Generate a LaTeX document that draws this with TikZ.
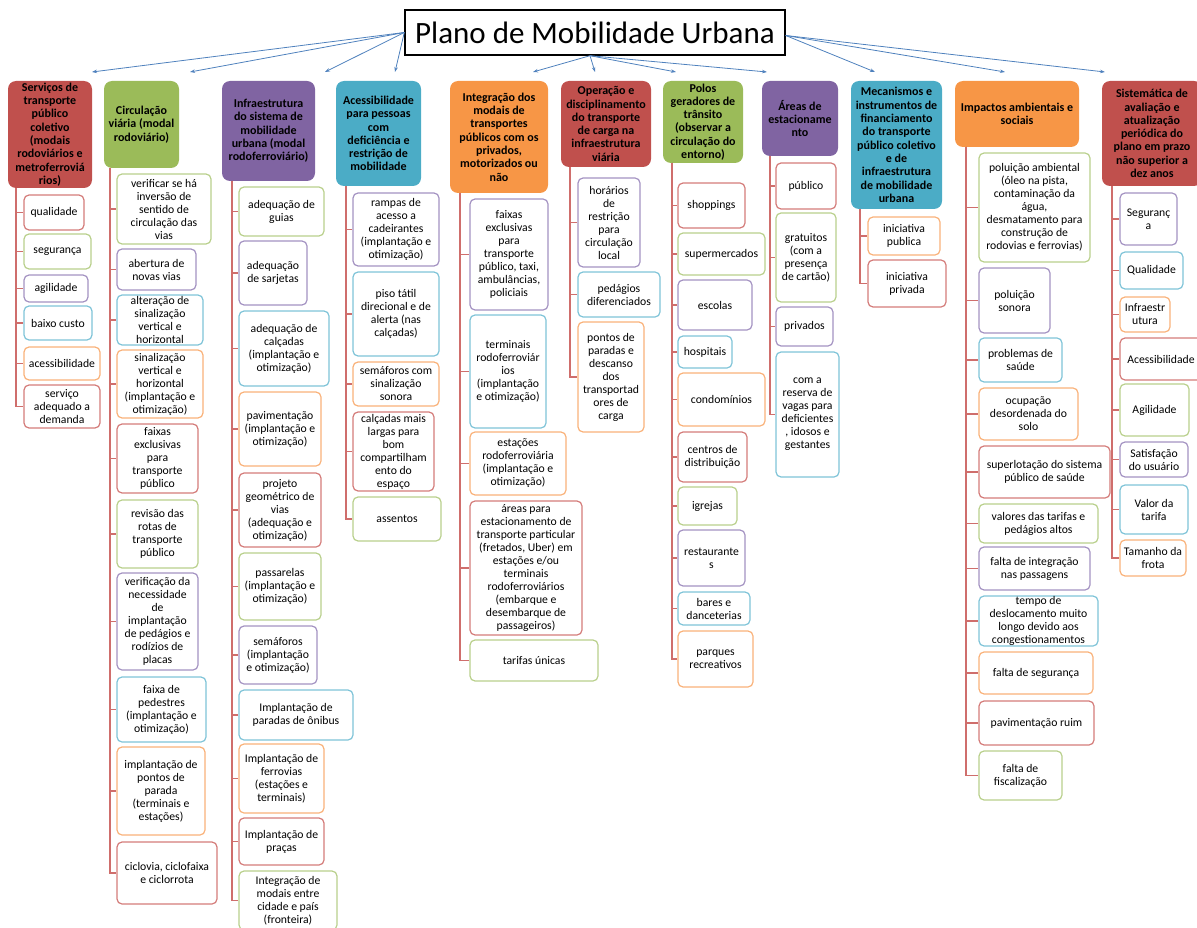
\documentclass[tikz,border=0pt]{standalone}
\usepackage{fontspec}
\setmainfont{Carlito}
\usetikzlibrary{arrows.meta}
\definecolor{hred}{HTML}{C0504D}
\definecolor{hgreen}{HTML}{9BBB59}
\definecolor{hpurple}{HTML}{8064A2}
\definecolor{hcyan}{HTML}{4BACC6}
\definecolor{horange}{HTML}{F79646}
\definecolor{bred}{HTML}{D47C7A}
\definecolor{bgreen}{HTML}{B9D08C}
\definecolor{bpurple}{HTML}{A493C2}
\definecolor{bblue}{HTML}{7FC4D8}
\definecolor{borange}{HTML}{F9B27A}
\definecolor{linec}{HTML}{CF6E6C}
\definecolor{arrc}{HTML}{4F81BD}
\tikzset{
 hdr/.style={rounded corners=8pt, inner sep=0pt, align=center, font=\fontsize{12}{13.3}\selectfont\bfseries, draw=none},
 chld/.style={rounded corners=5pt, inner sep=0pt, align=center, font=\fontsize{11.7}{13}\selectfont, fill=white, line width=1.2pt},
 conn/.style={draw=linec, line width=1.2pt},
 arr/.style={draw=arrc, line width=0.8pt, -{Stealth[length=5pt,width=3.5pt]}},
 ttl/.style={draw=black, line width=1.4pt, inner sep=0pt, font=\fontsize{31}{36}\selectfont},
}
\newcommand\mkhdr[7]{%
 \node[hdr, fill=#6, minimum width={(#4-#2)*1pt}, minimum height={(#5-#3)*1pt}] (#1) at ({(#2+#4)/2},{(#3+#5)/2}) {#7};}
\newcommand\mkch[8]{%
 \node[chld, draw=#6, minimum width={(#4-#2)*1pt}, minimum height={(#5-#3)*1pt}] (#1) at ({(#2+#4)/2},{(#3+#5)/2}) {#7};
 \draw[conn] (#8) |- (#1.west);}
\begin{document}
\begin{tikzpicture}[x=1pt,y=-1pt]
\useasboundingbox (0,0) rectangle (1197,928);
\node[ttl, minimum width=380pt, minimum height=45pt] (title) at (595,32.5) {Plano de Mobilidade Urbana};
% arrow targets
\coordinate (a1) at (92,72);
\coordinate (a2) at (190,72);
\coordinate (a3) at (325,72);
\coordinate (a4) at (395,72);
\coordinate (a5) at (533,72);
\coordinate (a6) at (595,72);
\coordinate (a7) at (676,72);
\coordinate (a8) at (767,72);
\coordinate (a9) at (875,72);
\coordinate (a10) at (1005,72);
\coordinate (a11) at (1105,72);
\foreach \t in {a1,a2,a3,a4} \draw[arr] (title.west) -- (\t);
\foreach \t in {a5,a6,a7,a8} \draw[arr] ([xshift=-5pt]title.south) -- (\t);
\foreach \t in {a9,a10,a11} \draw[arr] ([yshift=-3pt]title.east) -- (\t);
% column 1
\mkhdr{h1}{8}{81}{92}{188}{hred}{Serviços de\\transporte\\público\\coletivo\\(modais\\rodoviários e\\metroferroviá\\rios)}
\coordinate (v1) at (16,188);
\mkch{c1a}{24}{195}{84}{230}{bred}{qualidade}{v1}
\mkch{c1b}{24}{234}{91}{269}{bgreen}{segurança}{v1}
\mkch{c1c}{24}{275}{88}{302}{bpurple}{agilidade}{v1}
\mkch{c1d}{24}{306}{92}{340}{bblue}{baixo custo}{v1}
\mkch{c1e}{24}{347}{100}{380}{borange}{acessibilidade}{v1}
\mkch{c1f}{24}{385}{100}{428}{bred}{serviço\\adequado a\\demanda}{v1}
% column 2
\mkhdr{h2}{104}{81}{179}{168}{hgreen}{Circulação\\viária (modal\\rodoviário)}
\coordinate (v2) at (110,168);
\mkch{c2a}{117}{174}{211}{244}{bgreen}{verificar se há\\inversão de\\sentido de\\circulação das\\vias}{v2}
\mkch{c2b}{117}{249}{196}{290}{bpurple}{abertura de\\novas vias}{v2}
\mkch{c2c}{117}{295}{203}{345}{bblue}{alteração de\\sinalização\\vertical e\\horizontal}{v2}
\mkch{c2d}{117}{350}{203}{418}{borange}{sinalização\\vertical e\\horizontal\\(implantação e\\otimização)}{v2}
\mkch{c2e}{117}{424}{198}{493}{bred}{faixas\\exclusivas\\para\\transporte\\público}{v2}
\mkch{c2f}{117}{500}{198}{568}{bgreen}{revisão das\\rotas de\\transporte\\público}{v2}
\mkch{c2g}{117}{573}{198}{670}{bpurple}{verificação da\\necessidade\\de\\implantação\\de pedágios e\\rodízios de\\placas}{v2}
\mkch{c2h}{117}{677}{206}{742}{bblue}{faixa de\\pedestres\\(implantação e\\otimização)}{v2}
\mkch{c2i}{117}{747}{205}{835}{borange}{implantação de\\pontos de\\parada\\(terminais e\\estações)}{v2}
\mkch{c2j}{117}{842}{217}{904}{bred}{ciclovia, ciclofaixa\\e ciclorrota}{v2}
% column 3
\mkhdr{h3}{222}{81}{315}{181}{hpurple}{Infraestrutura\\do sistema de\\mobilidade\\urbana (modal\\rodoferroviário)}
\coordinate (v3) at (232,181);
\mkch{c3a}{239}{187}{324}{236}{bgreen}{adequação de\\guias}{v3}
\mkch{c3b}{239}{241}{307}{305}{bpurple}{adequação\\de sarjetas}{v3}
\mkch{c3c}{239}{311}{329}{386}{bblue}{adequação de\\calçadas\\(implantação e\\otimização)}{v3}
\mkch{c3d}{239}{392}{321}{466}{borange}{pavimentação\\(implantação e\\otimização)}{v3}
\mkch{c3e}{239}{473}{321}{547}{bred}{projeto\\geométrico de\\vias\\(adequação e\\otimização)}{v3}
\mkch{c3f}{239}{553}{321}{620}{bgreen}{passarelas\\(implantação e\\otimização)}{v3}
\mkch{c3g}{239}{626}{317}{684}{bpurple}{semáforos\\(implantação\\e otimização)}{v3}
\mkch{c3h}{239}{690}{353}{740}{bblue}{Implantação de\\paradas de ônibus}{v3}
\mkch{c3i}{239}{744}{324}{813}{borange}{Implantação de\\ferrovias\\(estações e\\terminais)}{v3}
\mkch{c3j}{239}{818}{324}{865}{bred}{Implantação de\\praças}{v3}
\mkch{c3k}{239}{871}{337}{930}{bgreen}{Integração de\\modais entre\\cidade e país\\(fronteira)}{v3}
% column 4
\mkhdr{h4}{336}{81}{421}{186}{hcyan}{Acessibilidade\\para pessoas\\com\\deficiência e\\restrição de\\mobilidade}
\coordinate (v4) at (346,186);
\mkch{c4a}{353}{193}{439}{266}{bpurple}{rampas de\\acesso a\\cadeirantes\\(implantação e\\otimização)}{v4}
\mkch{c4b}{353}{272}{439}{356}{bblue}{piso tátil\\direcional e de\\alerta (nas\\calçadas)}{v4}
\mkch{c4c}{353}{362}{439}{406}{borange}{semáforos com\\sinalização\\sonora}{v4}
\mkch{c4d}{353}{412}{434}{491}{bred}{calçadas mais\\largas para\\bom\\compartilham\\ento do\\espaço}{v4}
\mkch{c4e}{353}{497}{441}{541}{bgreen}{assentos}{v4}
% column 5
\mkhdr{h5}{450}{81}{548}{193}{horange}{Integração dos\\modais de\\transportes\\públicos com os\\privados,\\motorizados ou\\não}
\coordinate (v5) at (460,193);
\mkch{c5a}{470}{199}{548}{310}{bpurple}{faixas\\exclusivas\\para\\transporte\\público, taxi,\\ambulâncias,\\policiais}{v5}
\mkch{c5b}{470}{315}{546}{428}{bblue}{terminais\\rodoferroviár\\ios\\(implantação\\e otimização)}{v5}
\mkch{c5c}{470}{432}{566}{495}{borange}{estações\\rodoferroviária\\(implantação e\\otimização)}{v5}
\mkch{c5d}{470}{501}{582}{635}{bred}{áreas para\\estacionamento de\\transporte particular\\(fretados, Uber) em\\estações e/ou\\terminais\\rodoferroviários\\(embarque e\\desembarque de\\passageiros)}{v5}
\mkch{c5e}{470}{640}{598}{681}{bgreen}{tarifas únicas}{v5}
% column 6
\mkhdr{h6}{561}{81}{651}{167}{hred}{Operação e\\disciplinamento\\do transporte\\de carga na\\infraestrutura\\viária}
\coordinate (v6) at (570,167);
\mkch{c6a}{578}{178}{640}{267}{bpurple}{horários\\de\\restrição\\para\\circulação\\local}{v6}
\mkch{c6b}{578}{272}{660}{317}{bblue}{pedágios\\diferenciados}{v6}
\mkch{c6c}{578}{322}{644}{432}{borange}{pontos de\\paradas e\\descanso\\dos\\transportad\\ores de\\carga}{v6}
% column 7
\mkhdr{h7}{663}{81}{743}{163}{hgreen}{Polos\\geradores de\\trânsito\\(observar a\\circulação do\\entorno)}
\coordinate (v7) at (672,163);
\mkch{c7a}{678}{183}{745}{228}{bred}{shoppings}{v7}
\mkch{c7b}{678}{233}{765}{275}{bgreen}{supermercados}{v7}
\mkch{c7c}{678}{280}{752}{330}{bpurple}{escolas}{v7}
\mkch{c7d}{678}{336}{732}{368}{bblue}{hospitais}{v7}
\mkch{c7e}{678}{373}{765}{426}{borange}{condomínios}{v7}
\mkch{c7f}{678}{432}{747}{482}{bred}{centros de\\distribuição}{v7}
\mkch{c7g}{678}{487}{737}{525}{bgreen}{igrejas}{v7}
\mkch{c7h}{678}{530}{745}{586}{bpurple}{restaurante\\s}{v7}
\mkch{c7i}{678}{592}{750}{625}{bblue}{bares e\\danceterias}{v7}
\mkch{c7j}{678}{631}{753}{687}{borange}{parques\\recreativos}{v7}
% column 8
\mkhdr{h8}{762}{81}{838}{156}{hpurple}{Áreas de\\estacioname\\nto}
\coordinate (v8) at (770,156);
\mkch{c8a}{776}{163}{836}{209}{bred}{público}{v8}
\mkch{c8b}{776}{213}{836}{302}{bgreen}{gratuitos\\(com a\\presença\\de cartão)}{v8}
\mkch{c8c}{776}{307}{833}{346}{bpurple}{privados}{v8}
\mkch{c8d}{776}{352}{839}{477}{bblue}{com a\\reserva de\\vagas para\\deficientes\\, idosos e\\gestantes}{v8}
% column 9
\mkhdr{h9}{851}{81}{942}{209}{hcyan}{Mecanismos e\\instrumentos de\\financiamento\\do transporte\\público coletivo\\e de\\infraestrutura\\de mobilidade\\urbana}
\coordinate (v9) at (860,209);
\mkch{c9a}{868}{217}{940}{255}{borange}{iniciativa\\publica}{v9}
\mkch{c9b}{868}{260}{946}{307}{bred}{iniciativa\\privada}{v9}
% column 10
\mkhdr{h10}{955}{81}{1079}{147}{horange}{Impactos ambientais e\\sociais}
\coordinate (v10) at (966,147);
\mkch{c10a}{979}{153}{1090}{262}{bgreen}{poluição ambiental\\(óleo na pista,\\contaminação da\\água,\\desmatamento para\\construção de\\rodovias e ferrovias)}{v10}
\mkch{c10b}{979}{268}{1050}{333}{bpurple}{poluição\\sonora}{v10}
\mkch{c10c}{979}{338}{1062}{382}{bblue}{problemas de\\saúde}{v10}
\mkch{c10d}{979}{388}{1078}{440}{borange}{ocupação\\desordenada do\\solo}{v10}
\mkch{c10e}{979}{446}{1110}{498}{bred}{superlotação do sistema\\público de saúde}{v10}
\mkch{c10f}{979}{504}{1098}{543}{bgreen}{valores das tarifas e\\pedágios altos}{v10}
\mkch{c10g}{979}{547}{1090}{590}{bpurple}{falta de integração\\nas passagens}{v10}
\mkch{c10h}{979}{596}{1098}{646}{bblue}{tempo de\\deslocamento muito\\longo devido aos\\congestionamentos}{v10}
\mkch{c10i}{979}{652}{1093}{694}{borange}{falta de segurança}{v10}
\mkch{c10j}{979}{701}{1094}{745}{bred}{pavimentação ruim}{v10}
\mkch{c10k}{979}{751}{1062}{800}{bgreen}{falta de\\fiscalização}{v10}
% column 11
\mkhdr{h11}{1102}{81}{1202}{186}{hred}{Sistemática de\\avaliação e\\atualização\\periódica do\\plano em prazo\\não superior a\\dez anos}
\coordinate (v11) at (1112,186);
\mkch{c11a}{1120}{193}{1177}{245}{bpurple}{Seguranç\\a}{v11}
\mkch{c11b}{1120}{252}{1183}{289}{bblue}{Qualidade}{v11}
\mkch{c11c}{1120}{297}{1170}{332}{borange}{Infraestr\\utura}{v11}
\mkch{c11d}{1120}{338}{1202}{380}{bred}{Acessibilidade}{v11}
\mkch{c11e}{1120}{384}{1189}{436}{bgreen}{Agilidade}{v11}
\mkch{c11f}{1120}{442}{1188}{477}{bpurple}{Satisfação\\do usuário}{v11}
\mkch{c11g}{1120}{485}{1188}{534}{bblue}{Valor da\\tarifa}{v11}
\mkch{c11h}{1120}{540}{1186}{576}{borange}{Tamanho da\\frota}{v11}
\end{tikzpicture}
\end{document}
